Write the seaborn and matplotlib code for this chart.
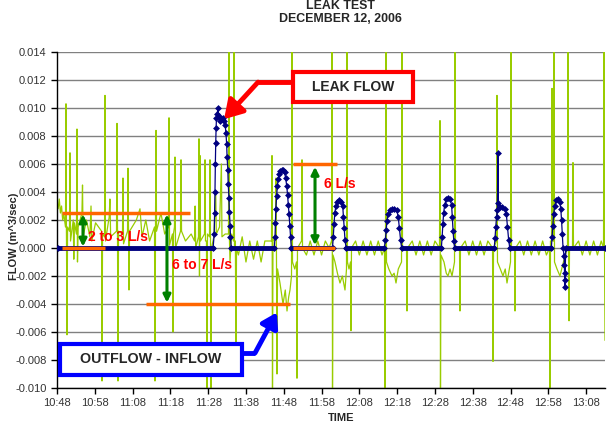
import numpy as np
import pandas as pd
import seaborn as sns
import matplotlib.pyplot as plt
from matplotlib.patches import Rectangle

# minutes after 10:48
time_labels = ['10:48', '10:58', '11:08', '11:18', '11:28', '11:38', '11:48', '11:58',
               '12:08', '12:18', '12:28', '12:38', '12:48', '12:58', '13:08']

# outflow - inflow (green)
green_min = [0.0, 0.3, 0.6, 0.9, 1.2, 1.5, 1.8, 2.25, 2.38, 2.5, 2.65, 2.8,
             3.3, 3.44, 3.58, 4.3, 4.45, 4.6, 5.15, 5.29, 5.42, 5.6,
             6.6, 6.75, 6.9, 7.8, 8.7, 9.0, 9.2, 10.2,
             11.8, 11.91, 12.05, 12.58, 12.70, 12.82, 13.8, 14.0, 14.2,
             15.75, 15.88, 16.01, 16.14, 16.28,
             17.33, 17.46, 17.6, 18.66, 18.79, 18.92, 19.05, 19.2,
             21.0, 21.96, 22.5, 23.5, 24.5, 25.8, 25.93, 26.07, 26.20, 26.34,
             27.5, 28.5, 29.5, 29.64, 29.78, 30.55, 30.69, 30.82,
             31.08, 31.22, 31.36, 32.68, 32.81, 32.95, 34.0, 35.5,
             36.4, 36.55, 36.7, 37.44, 37.57, 37.70, 37.84, 37.97,
             39.03, 39.16, 39.29, 39.55, 39.69, 39.82,
             40.35, 40.48, 40.61, 40.75, 40.88,
             41.5, 42.0, 42.15, 43.0, 43.5, 43.65, 44.5,
             45.38, 45.51, 45.64, 45.78, 46.2, 46.70, 46.83, 46.96, 47.2, 47.36, 47.5,
             48.0, 49.0, 50.0, 51.0, 52.0, 53.0, 54.0, 55.0,
             56.76, 56.89, 57.02, 57.15, 57.82, 57.95, 58.08, 58.21, 58.35,
             59.0, 59.80, 60.4, 60.86, 61.3, 61.65, 62.05,
             62.18, 62.31, 62.9, 63.37, 63.50, 63.63, 64.70, 64.83, 64.96,
             66.0, 67.0, 68.0, 69.0, 70.0, 71.0, 72.0, 72.64,
             72.77, 72.90, 73.03, 73.56, 74.2, 74.88, 75.5, 76.20, 76.6,
             76.73, 76.86, 77.26, 77.66, 77.79, 77.92,
             79.0, 80.0, 81.0, 82.0, 83.0, 84.0, 85.0, 86.0, 86.66,
             86.79, 86.92, 87.05, 87.18, 87.8, 88.64, 89.2, 89.70, 90.3, 91.16,
             91.29, 91.42, 92.48, 92.61, 92.74,
             94.0, 95.0, 96.0, 97.0, 98.0, 99.0, 100.0, 101.21,
             101.34, 101.47, 101.6, 102.40, 103.0, 103.46, 104.0, 104.52, 105.18,
             105.31, 105.44, 106.50, 106.63, 106.76,
             108.0, 109.0, 110.0, 111.0, 112.0, 113.0, 114.0, 115.24,
             115.37, 115.50, 116.29, 116.42, 116.55, 117.3, 118.01, 118.6, 119.07, 120.0,
             120.13, 120.26, 121.06, 121.19, 121.32,
             122.5, 123.5, 124.5, 125.5, 126.5, 127.5, 128.5, 129.5, 130.32,
             130.45, 130.58, 130.85, 130.98, 131.11, 131.38, 131.51, 131.64, 132.3, 133.09, 134.0,
             135.08, 135.21, 135.34, 135.48, 135.61, 136.40, 136.53, 136.66,
             138.0, 139.0, 140.0, 141.0, 142.0, 143.0, 144.0, 144.61, 144.74, 144.87, 145.0]
green_flow = [0.0032, 0.0028, 0.0035, 0.0025, 0.0030, 0.0020, 0.0024, 0.0015, 0.0103, 0.0010, -0.0062, 0.0015,
              0.0012, 0.0068, 0.0005, 0.0020, -0.0008, 0.0018, 0.0010, 0.0085, -0.0010, 0.0015,
              0.0025, 0.0045, 0.0008, 0.0020, 0.0008, 0.0030, 0.0005, 0.0018,
              0.0012, -0.0095, 0.0010, 0.0008, 0.0109, 0.0005, 0.0022, 0.0035, 0.0008,
              0.0012, 0.0089, 0.0010, -0.0095, 0.0012,
              0.0010, 0.0050, 0.0003, 0.0012, 0.0057, 0.0010, -0.0030, 0.0012,
              0.0020, 0.0028, 0.0008, 0.0020, 0.0005, 0.0015, -0.0095, 0.0020, 0.0084, 0.0012,
              0.0025, 0.0010, 0.0015, 0.0093, 0.0002, 0.0010, -0.0060, 0.0010,
              0.0015, 0.0065, 0.0000, 0.0012, 0.0063, 0.0012, 0.0005, 0.0010,
              0.0005, 0.0030, 0.0000, 0.0008, 0.0078, -0.0020, 0.0066, 0.0005,
              0.0010, 0.0063, 0.0005, 0.0005, -0.0100, 0.0010,
              0.0008, 0.0063, 0.0005, -0.0100, 0.0000,
              0.0008, 0.0040, 0.0010, 0.0015, 0.0060, 0.0008, 0.0010,
              0.0010, 0.0140, 0.0005, -0.0010, 0.0010, 0.0005, 0.0140, 0.0000, 0.0005, -0.0080, 0.0000,
              -0.0005, 0.0008, -0.0010, 0.0005, -0.0008, 0.0005, -0.0010, 0.0005,
              0.0005, 0.0066, -0.0100, 0.0005, 0.0008, 0.0050, -0.0010, -0.0090, -0.0015,
              -0.0025, -0.0040, -0.0030, -0.0045, -0.0035, -0.0030, -0.0020,
              0.0140, -0.0010, -0.0015, -0.0010, -0.0093, 0.0000, 0.0005, 0.0063, 0.0000,
              -0.0005, 0.0005, -0.0005, 0.0005, -0.0005, 0.0005, 0.0000, 0.0005,
              0.0140, -0.0100, -0.0005, -0.0010, -0.0018, -0.0025, -0.0020, -0.0030, -0.0015,
              0.0140, -0.0010, -0.0015, -0.0010, -0.0059, 0.0000,
              0.0005, -0.0005, 0.0005, -0.0005, 0.0005, -0.0005, 0.0005, -0.0005, 0.0000,
              -0.0100, 0.0005, 0.0140, -0.0010, -0.0015, -0.0020, -0.0018, -0.0025, -0.0015, -0.0010,
              0.0140, 0.0000, 0.0000, -0.0045, 0.0000,
              0.0005, -0.0005, 0.0005, -0.0005, 0.0005, -0.0005, 0.0005, 0.0000,
              0.0091, -0.0100, -0.0005, -0.0010, -0.0018, -0.0020, -0.0015, -0.0020, -0.0010,
              0.0140, 0.0000, 0.0000, -0.0045, 0.0000,
              0.0005, -0.0005, 0.0005, -0.0005, 0.0005, -0.0005, 0.0005, 0.0000,
              -0.0081, 0.0000, 0.0005, 0.0109, -0.0010, -0.0015, -0.0020, -0.0015, -0.0025, -0.0010,
              0.0140, 0.0000, 0.0000, -0.0045, 0.0000,
              0.0005, -0.0005, 0.0005, -0.0005, 0.0005, -0.0005, 0.0005, -0.0005, 0.0000,
              -0.0100, 0.0005, 0.0005, 0.0114, 0.0005, 0.0005, 0.0140, -0.0010, -0.0015, -0.0020, -0.0010,
              0.0000, 0.0140, 0.0000, -0.0052, 0.0000, 0.0000, 0.0061, 0.0000,
              0.0005, -0.0005, 0.0005, -0.0005, 0.0005, -0.0005, 0.0005, 0.0000, 0.0140, 0.0000, -0.0066]

# leak flow (blue)
blue_min = [0.3,
            41.3, 41.6, 41.7, 41.8, 41.9, 42.0, 42.1, 42.2, 42.4, 42.6, 42.8, 43.0, 43.3, 43.6,
            43.9, 44.2, 44.5, 44.7, 44.9, 45.0, 45.2, 45.3, 45.5, 45.6, 45.8, 45.9, 46.1,
            57.5, 57.7, 57.8, 57.9, 58.1, 58.3, 58.5, 58.8, 59.1, 59.5, 59.9, 60.2, 60.5, 60.8,
            61.0, 61.2, 61.4, 61.6, 61.8, 62.0,
            72.9, 73.1, 73.3, 73.5, 73.8, 74.2, 74.7, 75.2, 75.6, 75.8, 76.0, 76.2, 76.5,
            86.6, 86.9, 87.1, 87.3, 87.6, 88.0, 88.6, 89.3, 89.9, 90.3, 90.6, 90.9, 91.2,
            101.7, 101.9, 102.1, 102.3, 102.6, 103.0, 103.5, 104.0, 104.4, 104.6, 104.8, 105.0, 105.2,
            115.7, 115.9, 116.1, 116.3, 116.5, 116.7, 116.8, 117.2, 117.8, 118.5, 118.9, 119.2, 119.5, 119.8,
            130.8, 131.0, 131.2, 131.4, 131.7, 132.1, 132.6, 133.0, 133.3, 133.5, 133.7, 133.9,
            134.2, 134.25, 134.3, 134.35, 134.4, 134.6,
            145.0]
blue_flow = [0.0,
             0.0, 0.0010, 0.0025, 0.0040, 0.0060, 0.0075, 0.0086, 0.0093, 0.0096, 0.0100, 0.0094, 0.0091, 0.0092, 0.0092,
             0.0093, 0.0091, 0.0088, 0.0082, 0.0074, 0.0065, 0.0056, 0.0046, 0.0036, 0.0026, 0.0016, 0.0008, 0.0,
             0.0, 0.0008, 0.0018, 0.0028, 0.0037, 0.0044, 0.0049, 0.0053, 0.0055, 0.0056, 0.0056, 0.0054, 0.0050, 0.0044,
             0.0038, 0.0031, 0.0024, 0.0016, 0.0008, 0.0,
             0.0, 0.0008, 0.0017, 0.0025, 0.0030, 0.0033, 0.0034, 0.0033, 0.0030, 0.0022, 0.0014, 0.0006, 0.0,
             0.0, 0.0006, 0.0013, 0.0019, 0.0024, 0.0027, 0.0028, 0.0028, 0.0027, 0.0022, 0.0014, 0.0006, 0.0,
             0.0, 0.0008, 0.0017, 0.0025, 0.0031, 0.0035, 0.0036, 0.0035, 0.0031, 0.0022, 0.0012, 0.0005, 0.0,
             0.0, 0.0007, 0.0015, 0.0022, 0.0027, 0.0068, 0.0032, 0.0029, 0.0029, 0.0028, 0.0024, 0.0015, 0.0006, 0.0,
             0.0, 0.0008, 0.0016, 0.0024, 0.0030, 0.0034, 0.0035, 0.0033, 0.0028, 0.0020, 0.0010, 0.0,
             -0.0006, -0.0012, -0.0018, -0.0023, -0.0028, 0.0,
             0.0]

# orange reference levels: (level, start min, end min)
ref_level = [0.0025, 0.0, -0.0040, 0.0060, 0.0]
ref_start = [1.32, 1.32, 23.55, 62.45, 62.45]
ref_end = [35.2, 12.7, 61.65, 74.1, 73.56]

green_df = pd.DataFrame({'minute': green_min, 'flow': green_flow})
blue_df = pd.DataFrame({'minute': blue_min, 'flow': blue_flow})

sns.set_style('white')
plt.rcParams['font.family'] = ['Liberation Sans', 'DejaVu Sans']

fig, ax = plt.subplots(figsize=(6.14, 4.23), dpi=100)
fig.subplots_adjust(left=57/614, right=605/614, top=1-52/423, bottom=1-388/423)

sns.lineplot(data=green_df, x='minute', y='flow', color='#99CC00', linewidth=0.9,
             estimator=None, sort=False, ax=ax, zorder=2)
sns.lineplot(data=blue_df, x='minute', y='flow', color='#000080', linewidth=0.9,
             marker='D', markersize=3.5, markeredgewidth=0, estimator=None, sort=False,
             ax=ax, zorder=3)
# flat parts drawn thick (dense markers in the original)
base = np.where(blue_df['flow'] == 0, 0.0, np.nan)
ax.plot(blue_df['minute'], base, color='#000080', linewidth=3.5, zorder=3)

ax.hlines(ref_level, ref_start, ref_end, color='#FF6600', linewidth=2.5, zorder=5)

arr = dict(arrowstyle='<|-|>', color='#008000', lw=2.2, mutation_scale=11, shrinkA=0, shrinkB=0)
ax.annotate('', xy=(6.88, 0.0001), xytext=(6.88, 0.0024), arrowprops=arr, zorder=6)
ax.annotate('', xy=(29.1, -0.0039), xytext=(29.1, 0.0024), arrowprops=arr, zorder=6)
ax.annotate('', xy=(68.27, 0.0002), xytext=(68.27, 0.0058), arrowprops=arr, zorder=6)

red_kw = dict(color='#FF0000', fontsize=10, fontweight='bold', va='center', zorder=7)
ax.text(8.2, 0.0008, '2 to 3 L/s', **red_kw)
ax.text(30.4, -0.0012, '6 to 7 L/s', **red_kw)
ax.text(70.65, 0.0046, '6 L/s', **red_kw)

# LEAK FLOW callout
ax.add_patch(Rectangle((62.45, 0.01042), 94.2-62.45, 0.01257-0.01042, facecolor='white',
                       edgecolor='#FF0000', linewidth=3, zorder=8, clip_on=False))
ax.text(78.3, 0.0115, 'LEAK FLOW', ha='center', va='center', fontsize=10,
        fontweight='bold', zorder=9)
ax.plot([62.45, 53.2], [0.01185, 0.01185], color='#FF0000', linewidth=3.5, zorder=8,
        solid_capstyle='butt')
ax.annotate('', xy=(44.2, 0.0092), xytext=(53.2, 0.01185),
            arrowprops=dict(arrowstyle='-|>,head_length=0.9,head_width=0.55', color='#FF0000',
                            lw=3.5, mutation_scale=12, shrinkA=0, shrinkB=0), zorder=8)

# OUTFLOW - INFLOW callout
ax.add_patch(Rectangle((0.79, -0.00907), 48.95-0.79, 0.00222, facecolor='white',
                       edgecolor='#0000FF', linewidth=3, zorder=8))
ax.text(24.9, -0.00796, 'OUTFLOW - INFLOW', ha='center', va='center', fontsize=10.3,
        fontweight='bold', zorder=9)
ax.plot([48.95, 52.4], [-0.0075, -0.0075], color='#0000FF', linewidth=3.5, zorder=8,
        solid_capstyle='butt')
ax.annotate('', xy=(58.2, -0.0046), xytext=(52.4, -0.0075),
            arrowprops=dict(arrowstyle='-|>,head_length=0.8,head_width=0.5', color='#0000FF',
                            lw=3.5, mutation_scale=11, shrinkA=0, shrinkB=0), zorder=8)

ax.set_xlim(0, 145)
ax.set_ylim(-0.010, 0.014)
ax.set_xticks(np.arange(len(time_labels)) * 10)
ax.set_xticklabels(time_labels)
yt = np.linspace(-0.010, 0.014, 13)
ax.set_yticks(yt)
ax.set_yticklabels([f'{v:.3f}' for v in yt])
ax.yaxis.grid(True, color='#808080', linewidth=1)
ax.xaxis.grid(False)
ax.set_axisbelow(True)
ax.tick_params(axis='both', direction='out', length=4, width=1, color='black',
               labelsize=8, labelcolor='#333333', bottom=True, left=True)
for s in ['top', 'right']:
    ax.spines[s].set_visible(False)
for s in ['left', 'bottom']:
    ax.spines[s].set_color('black')
    ax.spines[s].set_linewidth(1)

ax.set_xlabel('')
ax.set_ylabel('FLOW (m^3/sec)', fontsize=8, fontweight='bold')
ax.yaxis.set_label_coords(-0.07, 0.452)
fig.text(0.555, 1-413/423, 'TIME', ha='center', va='top', fontsize=8, fontweight='bold')
fig.text(0.555, 1-6/423, 'LEAK TEST', ha='center', va='center', fontsize=8.9, fontweight='bold')
fig.text(0.555, 1-18.5/423, 'DECEMBER 12, 2006', ha='center', va='center', fontsize=8.9,
         fontweight='bold')

fig.savefig('out.png', dpi=100)
